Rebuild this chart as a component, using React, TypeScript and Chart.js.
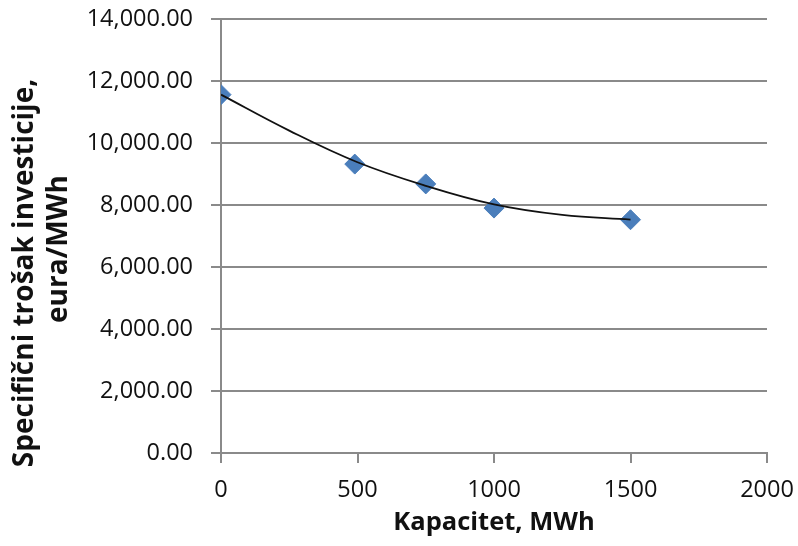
import React, { useEffect, useRef } from "react";
import { Chart, registerables } from "chart.js";

Chart.register(...registerables);

// Data
const capacityMWh = [0, 490, 750, 1000, 1500];
const specificCost = [11560, 9320, 8680, 7900, 7525];

// Trendline samples
const trendX = [0, 250, 500, 750, 1000, 1250, 1500];
const trendY = [11560, 10400, 9380, 8620, 8020, 7680, 7530];

const yTitleLines = ["Specifični trošak investicije,", "eura/MWh"];
const xTitle = "Kapacitet, MWh";

const GRID = "#8a8a8a";
const BLUE = "#4a7ebb";
const FONT = "'Open Sans', 'Noto Sans', sans-serif";

const yTitlePlugin = {
  id: "yTitlePlugin",
  afterDraw(chart: any) {
    const ctx = chart.ctx;
    ctx.save();
    ctx.fillStyle = "#111";
    ctx.font = `bold 28px ${FONT}`;
    ctx.textAlign = "center";
    ctx.textBaseline = "middle";
    const pos = [
      [25, 273],
      [59, 249],
    ];
    yTitleLines.forEach((t, i) => {
      ctx.save();
      ctx.translate(pos[i][0], pos[i][1]);
      ctx.rotate(-Math.PI / 2);
      ctx.fillText(t, 0, 0);
      ctx.restore();
    });
    ctx.restore();
  },
};

export default function App() {
  const ref = useRef<HTMLCanvasElement | null>(null);

  useEffect(() => {
    document.body.style.margin = "0";
    if (!ref.current) return;
    const chart = new Chart(ref.current, {
      type: "scatter",
      data: {
        datasets: [
          {
            label: "Trend",
            type: "line",
            data: trendX.map((x, i) => ({ x, y: trendY[i] })),
            borderColor: "#111111",
            borderWidth: 1.8,
            pointRadius: 0,
            tension: 0.4,
            fill: false,
            order: 1,
          },
          {
            label: "Specifični trošak",
            data: capacityMWh.map((x, i) => ({ x, y: specificCost[i] })),
            pointStyle: "rectRot",
            pointRadius: 10,
            backgroundColor: BLUE,
            borderColor: BLUE,
            borderWidth: 1,
            order: 2,
          },
        ],
      },
      options: {
        responsive: false,
        animation: false,
        layout: { padding: { top: 19, right: 31, left: 0, bottom: 0 } },
        plugins: {
          legend: { display: false },
          tooltip: { enabled: false },
        },
        scales: {
          x: {
            type: "linear",
            min: 0,
            max: 2000,
            ticks: {
              stepSize: 500,
              color: "#111",
              font: { family: FONT, size: 23.5 },
              padding: 13,
              callback: (v: any) => String(v),
            },
            grid: {
              drawOnChartArea: false,
              drawTicks: true,
              tickLength: 10,
              color: GRID,
              lineWidth: 2,
            },
            border: { display: true, color: GRID, width: 2 },
            title: {
              display: true,
              text: xTitle,
              color: "#111",
              font: { family: FONT, size: 25.5, weight: "bold" },
              padding: { top: 0, bottom: 8 },
            },
            afterFit: (scale: any) => {
              scale.height = 93;
              scale.paddingLeft = 0;
              scale.paddingRight = 0;
            },
          },
          y: {
            min: 0,
            max: 14000,
            ticks: {
              stepSize: 2000,
              color: "#111",
              font: { family: FONT, size: 23.5 },
              padding: 18,
              callback: (v: any) =>
                Number(v).toLocaleString("en-US", {
                  minimumFractionDigits: 2,
                  maximumFractionDigits: 2,
                }),
            },
            grid: {
              color: GRID,
              lineWidth: 2,
              tickLength: 10,
            },
            border: { display: true, color: GRID, width: 2 },
            afterFit: (scale: any) => {
              scale.width = 221;
              scale.paddingTop = 0;
              scale.paddingBottom = 0;
            },
          },
        },
      },
      plugins: [yTitlePlugin],
    });
    return () => chart.destroy();
  }, []);

  return (
    <div style={{ width: 798, height: 546, background: "#fff" }}>
      <canvas ref={ref} width={798} height={546} />
    </div>
  );
}
